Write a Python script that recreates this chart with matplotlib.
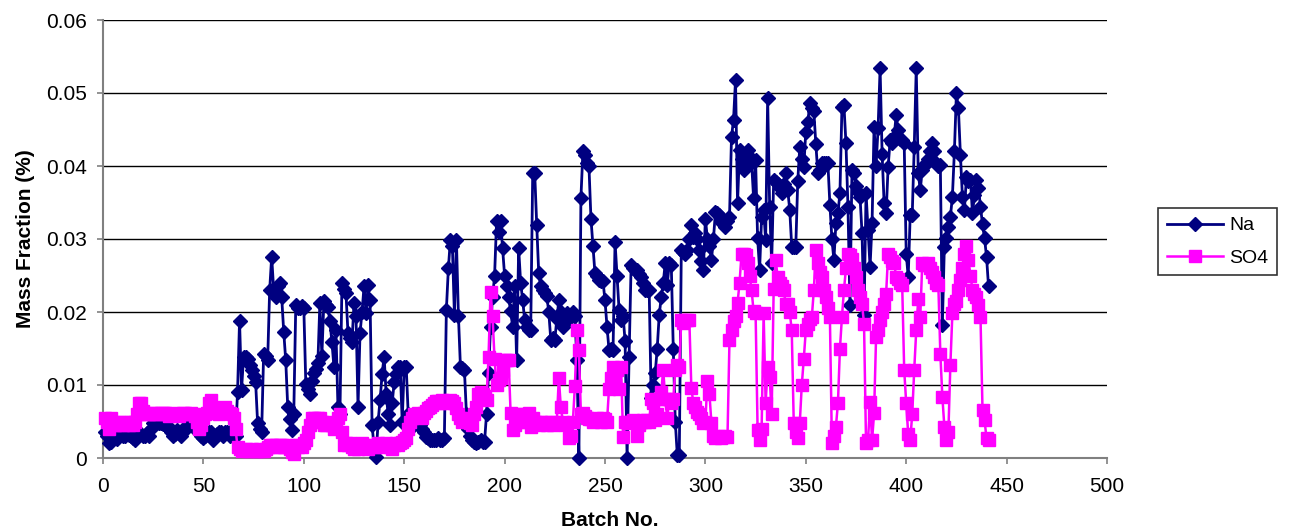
import matplotlib
matplotlib.use("Agg")
import matplotlib.pyplot as plt

# Mass fraction per batch (batches 1..441)
na = [
    .0035, .0030, .0020, .0022, .0028, .0030, .0026, .0030, .0032, .0030,
    .0030, .0034, .0032, .0030, .0028, .0024, .0030, .0034, .0033, .0030,
    .0030, .0034, .0030, .0040, .0048, .0048, .0050, .0048, .0048, .0047,
    .0048, .0045, .0040, .0035, .0030, .0033, .0038, .0035, .0030, .0035,
    .0040, .0045, .0048, .0048, .0045, .0040, .0038, .0035, .0030, .0028,
    .0030, .0033, .0035, .0035, .0025, .0030, .0033, .0035, .0035, .0030,
    .0035, .0035, .0030, .0038, .0035, .0030, .0090, .0188, .0093, .0139,
    .0139, .0135, .0128, .0120, .0112, .0104, .0048, .0040, .0035, .0143,
    .0140, .0134, .0230, .0276, .0230, .0221, .0235, .0240, .0220, .0173,
    .0134, .0070, .0054, .0039, .0060, .0209, .0206, .0206, .0208, .0206,
    .0102, .0095, .0088, .0105, .0116, .0122, .0130, .0212, .0140, .0215,
    .0210, .0207, .0187, .0159, .0125, .0175, .0070, .0060, .0240, .0232,
    .0226, .0171, .0165, .0159, .0212, .0194, .0070, .0171, .0200, .0235,
    .0198, .0237, .0216, .0045, .0015, .0002, .0050, .0080, .0115, .0139,
    .0088, .0060, .0045, .0075, .0104, .0115, .0125, .0125, .0050, .0125,
    .0125, .0060, .0040, .0045, .0050, .0050, .0048, .0045, .0040, .0035,
    .0029, .0027, .0025, .0025, .0025, .0025, .0027, .0025, .0025, .0028,
    .0203, .0260, .0299, .0290, .0196, .0299, .0195, .0125, .0123, .0120,
    .0060, .0040, .0030, .0025, .0022, .0020, .0022, .0025, .0022, .0022,
    .0060, .0116, .0180, .0220, .0249, .0324, .0310, .0324, .0287, .0250,
    .0235, .0220, .0201, .0180, .0235, .0134, .0287, .0240, .0216, .0189,
    .0180, .0175, .0175, .0390, .0390, .0319, .0253, .0235, .0230, .0226,
    .0222, .0200, .0162, .0165, .0162, .0190, .0216, .0200, .0180, .0185,
    .0198, .0190, .0195, .0200, .0194, .0134, .0000, .0356, .0420, .0415,
    .0404, .0400, .0328, .0290, .0253, .0250, .0244, .0243, .0242, .0216,
    .0180, .0148, .0150, .0148, .0296, .0250, .0203, .0189, .0195, .0160,
    .0000, .0139, .0264, .0260, .0258, .0257, .0252, .0248, .0240, .0230,
    .0230, .0230, .0082, .0100, .0116, .0150, .0196, .0220, .0240, .0267,
    .0237, .0267, .0265, .0150, .0050, .0004, .0004, .0285, .0282, .0280,
    .0285, .0300, .0319, .0303, .0308, .0300, .0285, .0270, .0258, .0328,
    .0300, .0290, .0271, .0300, .0337, .0335, .0333, .0325, .0320, .0316,
    .0325, .0330, .0440, .0463, .0518, .0349, .0422, .0410, .0395, .0400,
    .0422, .0413, .0405, .0356, .0408, .0301, .0258, .0330, .0340, .0298,
    .0493, .0344, .0267, .0381, .0378, .0376, .0370, .0363, .0375, .0390,
    .0367, .0340, .0289, .0289, .0289, .0380, .0426, .0410, .0399, .0447,
    .0460, .0486, .0480, .0475, .0430, .0390, .0395, .0404, .0404, .0404,
    .0404, .0347, .0300, .0271, .0322, .0335, .0363, .0481, .0483, .0431,
    .0344, .0209, .0395, .0390, .0372, .0365, .0358, .0308, .0196, .0363,
    .0312, .0262, .0322, .0454, .0400, .0452, .0534, .0417, .0349, .0335,
    .0399, .0435, .0431, .0440, .0470, .0450, .0437, .0435, .0431, .0280,
    .0248, .0333, .0333, .0426, .0534, .0390, .0367, .0395, .0400, .0404,
    .0410, .0420, .0431, .0420, .0404, .0400, .0402, .0182, .0289, .0301,
    .0316, .0330, .0358, .0420, .0500, .0479, .0415, .0358, .0340, .0385,
    .0380, .0381, .0335, .0360, .0381, .0370, .0344, .0320, .0301, .0276,
    .0235,
]

so4 = [
    .0055, .0050, .0040, .0055, .0050, .0045, .0045, .0050, .0048, .0045,
    .0050, .0048, .0045, .0050, .0045, .0050, .0060, .0075, .0075, .0065,
    .0060, .0060, .0060, .0062, .0062, .0060, .0060, .0060, .0062, .0062,
    .0062, .0060, .0058, .0060, .0062, .0060, .0060, .0058, .0060, .0062,
    .0062, .0060, .0060, .0062, .0060, .0058, .0050, .0040, .0045, .0055,
    .0060, .0062, .0075, .0080, .0070, .0062, .0065, .0060, .0062, .0065,
    .0070, .0065, .0062, .0060, .0055, .0040, .0015, .0012, .0010, .0011,
    .0012, .0010, .0010, .0012, .0011, .0010, .0010, .0012, .0010, .0010,
    .0012, .0015, .0018, .0018, .0015, .0018, .0015, .0018, .0018, .0015,
    .0015, .0018, .0012, .0008, .0005, .0018, .0015, .0018, .0015, .0020,
    .0025, .0035, .0045, .0055, .0055, .0050, .0055, .0055, .0050, .0045,
    .0045, .0048, .0050, .0045, .0040, .0045, .0055, .0060, .0035, .0018,
    .0020, .0018, .0020, .0015, .0012, .0015, .0012, .0018, .0020, .0015,
    .0015, .0012, .0015, .0018, .0018, .0015, .0020, .0018, .0015, .0018,
    .0020, .0018, .0015, .0012, .0018, .0020, .0018, .0020, .0022, .0025,
    .0028, .0040, .0050, .0055, .0060, .0058, .0062, .0060, .0055, .0062,
    .0065, .0068, .0070, .0072, .0075, .0078, .0078, .0075, .0080, .0078,
    .0075, .0078, .0080, .0078, .0075, .0068, .0060, .0055, .0050, .0052,
    .0055, .0050, .0048, .0045, .0060, .0070, .0088, .0090, .0088, .0085,
    .0080, .0139, .0228, .0194, .0135, .0100, .0107, .0110, .0120, .0134,
    .0134, .0134, .0061, .0039, .0045, .0060, .0055, .0050, .0060, .0055,
    .0050, .0061, .0043, .0055, .0050, .0048, .0045, .0050, .0048, .0050,
    .0045, .0048, .0050, .0045, .0048, .0050, .0110, .0070, .0050, .0045,
    .0048, .0027, .0030, .0050, .0098, .0175, .0148, .0060, .0062, .0058,
    .0055, .0053, .0053, .0050, .0053, .0055, .0053, .0050, .0055, .0053,
    .0050, .0095, .0110, .0125, .0100, .0120, .0094, .0125, .0029, .0050,
    .0050, .0048, .0050, .0052, .0050, .0030, .0045, .0050, .0052, .0050,
    .0052, .0050, .0081, .0075, .0052, .0060, .0081, .0090, .0121, .0081,
    .0055, .0081, .0075, .0081, .0121, .0128, .0125, .0189, .0185, .0189,
    .0189, .0189, .0096, .0075, .0070, .0063, .0060, .0055, .0048, .0050,
    .0106, .0088, .0048, .0030, .0027, .0029, .0030, .0028, .0029, .0030,
    .0029, .0162, .0175, .0187, .0195, .0212, .0240, .0280, .0280, .0278,
    .0267, .0250, .0230, .0201, .0198, .0038, .0024, .0040, .0198, .0075,
    .0125, .0111, .0060, .0232, .0271, .0248, .0240, .0235, .0230, .0211,
    .0211, .0200, .0175, .0048, .0035, .0027, .0048, .0100, .0136, .0175,
    .0184, .0190, .0193, .0230, .0285, .0267, .0255, .0248, .0230, .0221,
    .0205, .0193, .0020, .0030, .0043, .0075, .0150, .0193, .0230, .0260,
    .0280, .0278, .0273, .0260, .0248, .0230, .0220, .0211, .0184, .0020,
    .0024, .0077, .0024, .0061, .0166, .0175, .0189, .0200, .0211, .0225,
    .0280, .0275, .0270, .0267, .0248, .0245, .0240, .0237, .0121, .0075,
    .0033, .0024, .0060, .0121, .0175, .0218, .0193, .0267, .0265, .0265,
    .0267, .0260, .0255, .0248, .0240, .0237, .0143, .0084, .0043, .0024,
    .0035, .0128, .0198, .0211, .0215, .0230, .0244, .0260, .0280, .0290,
    .0271, .0250, .0230, .0225, .0221, .0210, .0193, .0066, .0052, .0027,
    .0024,
]

batch = list(range(1, len(na) + 1))

x_ticks = [0, 50, 100, 150, 200, 250, 300, 350, 400, 450, 500]
y_ticks = [0, 0.01, 0.02, 0.03, 0.04, 0.05, 0.06]
y_labels = ["0", "0.01", "0.02", "0.03", "0.04", "0.05", "0.06"]

plt.rcParams["font.family"] = ["Liberation Sans", "DejaVu Sans"]

fig = plt.figure(figsize=(12.93, 5.31), dpi=100)
ax = fig.add_axes([103 / 1293, 73 / 531, 1004 / 1293, 438 / 531])

ax.plot(batch, na, color="#000080", lw=2.0, marker="D", ms=6.8, mew=1,
        mec="#000080", mfc="#000080", label="Na", clip_on=False, zorder=3)
ax.plot(batch, so4, color="#FF00FF", lw=1.8, marker="s", ms=9.0, mew=1,
        mec="#FF00FF", mfc="#FF00FF", label="SO4", clip_on=False, zorder=4)

ax.set_xlim(0, 500)
ax.set_ylim(0, 0.06)
ax.set_xticks(x_ticks)
ax.set_xticklabels([str(t) for t in x_ticks])
ax.set_yticks(y_ticks)
ax.set_yticklabels(y_labels)
ax.tick_params(axis="both", direction="out", length=4.5, width=1.2,
               color="#808080", labelsize=15)
ax.tick_params(axis="x", pad=9)
ax.tick_params(axis="y", pad=7)

# Excel-style: black horizontal gridlines, grey axes, no box
ax.yaxis.grid(True, color="black", lw=1)
ax.set_axisbelow(True)
for side in ("top", "right"):
    ax.spines[side].set_visible(False)
for side in ("left", "bottom"):
    ax.spines[side].set_color("#808080")
    ax.spines[side].set_linewidth(1.5)

ax.set_xlabel("Batch No.", fontsize=15, fontweight="bold")
ax.xaxis.set_label_coords(0.505, -0.122)
ax.set_ylabel("Mass Fraction (%)", fontsize=15, fontweight="bold")
ax.yaxis.set_label_coords(-0.068, 0.5)

leg = fig.legend(loc="upper left", bbox_to_anchor=(1158 / 1293, 1 - 208 / 531),
                 borderaxespad=0, fontsize=14, frameon=True, fancybox=False,
                 edgecolor="black", borderpad=0.45, labelspacing=0.75,
                 handlelength=2.9, handletextpad=0.3)
leg.get_frame().set_linewidth(1.2)

fig.savefig("out.png", dpi=100)
